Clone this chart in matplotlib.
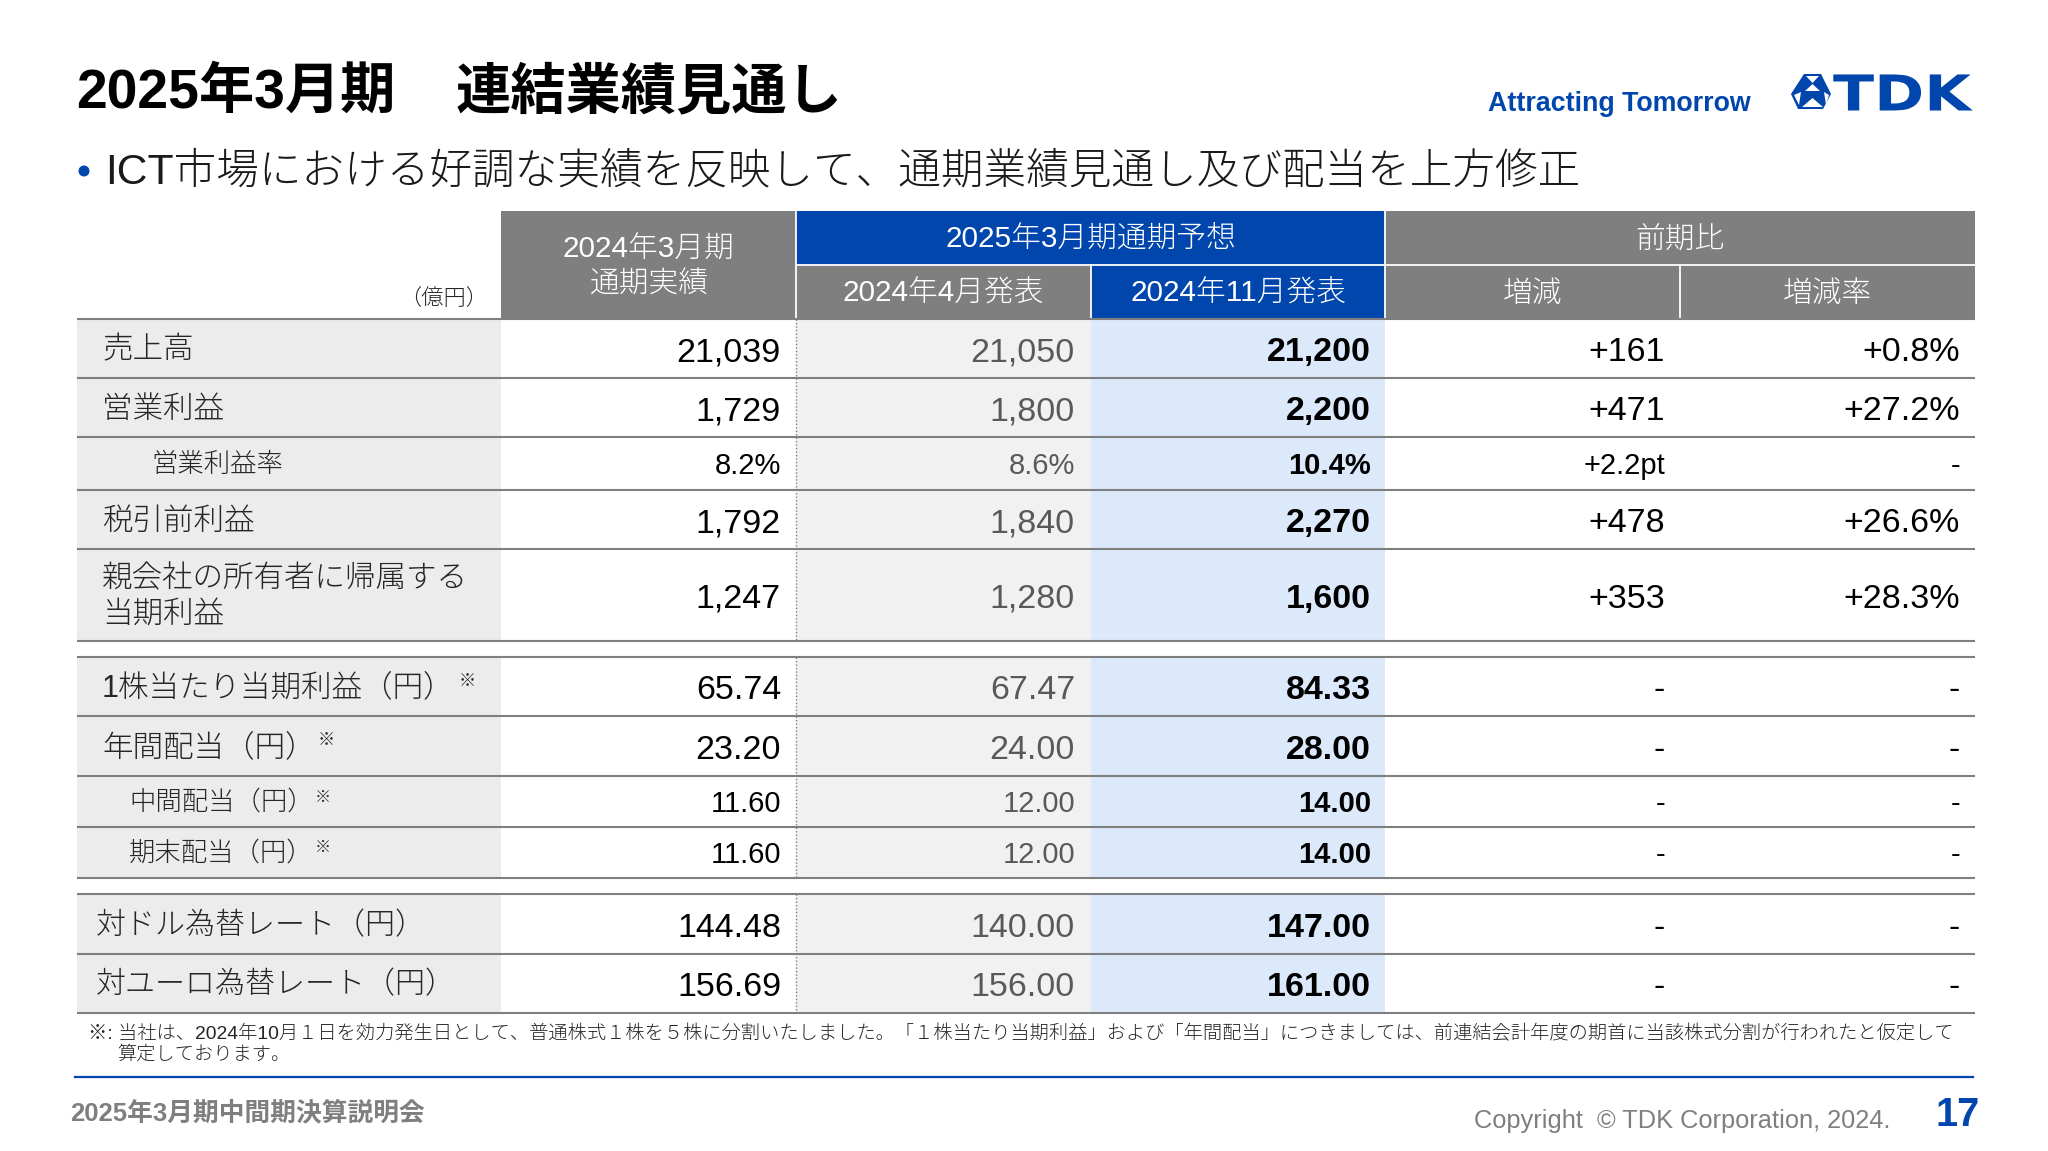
import matplotlib
matplotlib.use("Agg")
import matplotlib.pyplot as plt
from matplotlib.patches import Rectangle, Polygon
from matplotlib.patheffects import AbstractPathEffect
from matplotlib.transforms import Affine2D

# ---------- data ----------
title_left = "2025年3月期"
title_right = "連結業績見通し"
subtitle = "ICT市場における好調な実績を反映して、通期業績見通し及び配当を上方修正"
labels = ["売上高", "営業利益", "営業利益率", "税引前利益", "親会社の所有者に帰属する\n当期利益",
          "1株当たり当期利益（円）", "年間配当（円）", "中間配当（円）", "期末配当（円）",
          "対ドル為替レート（円）", "対ユーロ為替レート（円）"]
fy24_actual = ["21,039", "1,729", "8.2%", "1,792", "1,247", "65.74", "23.20", "11.60", "11.60", "144.48", "156.69"]
fy25_apr = ["21,050", "1,800", "8.6%", "1,840", "1,280", "67.47", "24.00", "12.00", "12.00", "140.00", "156.00"]
fy25_nov = ["21,200", "2,200", "10.4%", "2,270", "1,600", "84.33", "28.00", "14.00", "14.00", "147.00", "161.00"]
change = ["+161", "+471", "+2.2pt", "+478", "+353", "-", "-", "-", "-", "-", "-"]
change_rate = ["+0.8%", "+27.2%", "-", "+26.6%", "+28.3%", "-", "-", "-", "-", "-", "-"]
footnote = ["※: 当社は、2024年10月１日を効力発生日として、普通株式１株を５株に分割いたしました。「１株当たり当期利益」および「年間配当」につきましては、前連結会計年度の期首に当該株式分割が行われたと仮定して",
            "算定しております。"]

# ---------- layout (pixels) ----------
W, H = 2048, 1151
X = [77, 501, 796, 1091, 1385, 1680, 1975]
HDR = [211, 265, 319]
ROWS = [(319, 378), (378, 437), (437, 490), (490, 549), (549, 641), (657, 716), (716, 776),
        (776, 827), (827, 878), (894, 954), (954, 1013)]
LINES = [319, 378, 437, 490, 549, 641, 657, 716, 776, 827, 878, 894, 954, 1013]
LABEL_X = [102, 102, 151, 102, 102, 102, 102, 129, 129, 96, 96]
LABEL_SIZE = [22, 22, 19, 22, 22, 22, 22, 19, 19, 21.6, 21.6]
SMALL = [False, False, True, False, False, False, False, True, True, False, False]
MARK_POS = {5: (467, 681), 6: (326, 740), 7: (323, 797), 8: (323, 847)}

GRAY = "#7f7f7f"
BLUE = "#0046ad"
LBLUE = "#dbe9fb"
LBG = "#ececec"
CBG = "#f1f1f1"
LABTXT = "#262626"
VALGRAY = "#595959"
FONT = ["Liberation Sans", "Noto Sans CJK JP"]
plt.rcParams["font.family"] = FONT

fig = plt.figure(figsize=(W / 100, H / 100), dpi=100, facecolor="white")
ax = fig.add_axes([0, 0, 1, 1])
ax.set_xlim(0, W)
ax.set_ylim(H, 0)
ax.axis("off")


def rect(x0, y0, x1, y1, c, z=1):
    ax.add_patch(Rectangle((x0, y0), x1 - x0, y1 - y0, facecolor=c, edgecolor="none", zorder=z))


def txt(x, y, s, size, c="black", ha="left", va="baseline", w="normal", **kw):
    ax.text(x, y, s, fontsize=size, color=c, ha=ha, va=va, fontweight=w, zorder=5, **kw)


class StretchX(AbstractPathEffect):
    def __init__(self, sx):
        super().__init__()
        self.sx = sx

    def draw_path(self, renderer, gc, tpath, affine, rgbFace=None):
        renderer.draw_path(gc, tpath, Affine2D().scale(self.sx, 1) + affine, rgbFace)


# title block
txt(76, 108, title_left, 39.8, w="bold")
txt(456, 108, title_right, 39.8, w="bold")
ax.add_patch(plt.Circle((84, 171), 4.8, color=BLUE, zorder=5))
txt(105.5, 183, subtitle, 30.7, c="#1a1a1a", w="light")

# logo
txt(1487.5, 111, "Attracting Tomorrow", 19.3, c=BLUE, w="bold")
t = ax.text(1833, 110.5, "TDK", fontsize=35.6, color=BLUE, fontweight="bold", family="DejaVu Sans", zorder=5)
t.set_path_effects([StretchX(1.22)])
ax.add_patch(Polygon([(1804, 74), (1821, 74), (1831, 94), (1823, 109), (1798, 109), (1791, 94)],
                     closed=True, facecolor=BLUE, edgecolor="none", zorder=4))
for tri in [[(1806, 76), (1819, 76), (1812.5, 83)], [(1812.5, 84), (1805, 91), (1820, 91)],
            [(1801, 92), (1794, 95), (1799, 105)], [(1824, 92), (1829, 95), (1826, 105)],
            [(1812.5, 98), (1802, 107), (1823, 107)]]:
    ax.add_patch(Polygon(tri, closed=True, facecolor="white", edgecolor="none", zorder=5))

# header
rect(X[1], HDR[0], X[2], HDR[2], GRAY)
rect(X[2], HDR[0], X[4], HDR[1], BLUE)
rect(X[2], HDR[1], X[3], HDR[2], GRAY)
rect(X[3], HDR[1], X[4], HDR[2], BLUE)
rect(X[4], HDR[0], X[6], HDR[2], GRAY)
for x0, x1, y0, y1 in [(X[2], X[2], HDR[0], HDR[2]), (X[4], X[4], HDR[0], HDR[2]), (X[3], X[3], HDR[1], HDR[2]),
                       (X[5], X[5], HDR[1], HDR[2]), (X[2], X[6], HDR[1], HDR[1])]:
    ax.plot([x0, x1], [y0, y1], color="white", lw=1.3, zorder=3)

HS = 21.4
hc = "white"
txt((X[1] + X[2]) / 2, 258, "2024年3月期", HS, hc, ha="center", w="light")
txt((X[1] + X[2]) / 2, 293, "通期実績", HS, hc, ha="center", w="light")
txt((X[2] + X[4]) / 2, 248, "2025年3月期通期予想", HS, hc, ha="center", w="light")
txt((X[4] + X[6]) / 2, 248, "前期比", HS, hc, ha="center", w="light")
txt((X[2] + X[3]) / 2, 302, "2024年4月発表", HS, hc, ha="center", w="light")
txt((X[3] + X[4]) / 2, 302, "2024年11月発表", HS, hc, ha="center", w="light")
txt((X[4] + X[5]) / 2, 302, "増減", HS, hc, ha="center", w="light")
txt((X[5] + X[6]) / 2, 302, "増減率", HS, hc, ha="center", w="light")
txt(488, 306, "（億円）", 16, LABTXT, ha="right", w="light")

# body
VAL_RIGHT = [781, 1075, 1371, 1665, 1960]
columns = [fy24_actual, fy25_apr, fy25_nov, change, change_rate]
col_color = ["black", VALGRAY, "black", "black", "black"]
col_weight = ["normal", "normal", "bold", "normal", "normal"]

for i, (y0, y1) in enumerate(ROWS):
    rect(X[0], y0, X[1], y1, LBG)
    rect(X[2], y0, X[3], y1, CBG)
    rect(X[3], y0, X[4], y1, LBLUE)
    yc = (y0 + y1) / 2
    small = SMALL[i]
    if "\n" in labels[i]:
        a, b = labels[i].split("\n")
        txt(LABEL_X[i], 587, a, LABEL_SIZE[i], LABTXT, w="light")
        txt(LABEL_X[i], 623, b, LABEL_SIZE[i], LABTXT, w="light")
    else:
        txt(LABEL_X[i], yc + (8 if small else 10), labels[i], LABEL_SIZE[i], LABTXT, w="light")
    if i in MARK_POS:
        mx, my = MARK_POS[i]
        txt(mx, my, "※", 12.5 if not small else 11.5, LABTXT, ha="center", va="center", w="light")
    for vals, xr, c, wt in zip(columns, VAL_RIGHT, col_color, col_weight):
        txt(xr, yc + (10.5 if small else 12.5), vals[i], 21 if small else 24.5, c, ha="right", w=wt)

# grid lines
for y in LINES:
    ax.plot([X[0], X[6]], [y, y], color=GRAY, lw=1.5, zorder=3, solid_capstyle="butt")
for y0, y1 in [(319, 641), (657, 878), (894, 1013)]:
    ax.plot([X[2], X[2]], [y0, y1], color=GRAY, lw=1, ls=(0, (1, 1.5)), zorder=3)

# footer
txt(88, 1039, footnote[0], 13.85, "#262626", w="light")
txt(117, 1059.5, footnote[1], 13.85, "#262626", w="light")
ax.plot([75, 1973], [1077, 1077], color=BLUE, lw=1.6, zorder=3)
txt(70, 1120, "2025年3月期中間期決算説明会", 18.5, GRAY, w="bold")
txt(1890, 1128, "Copyright  © TDK Corporation, 2024.", 18.3, GRAY, ha="right")
txt(1980, 1126, "17", 28.5, BLUE, ha="right", w="bold")

fig.savefig("out.png", dpi=100, facecolor="white")
